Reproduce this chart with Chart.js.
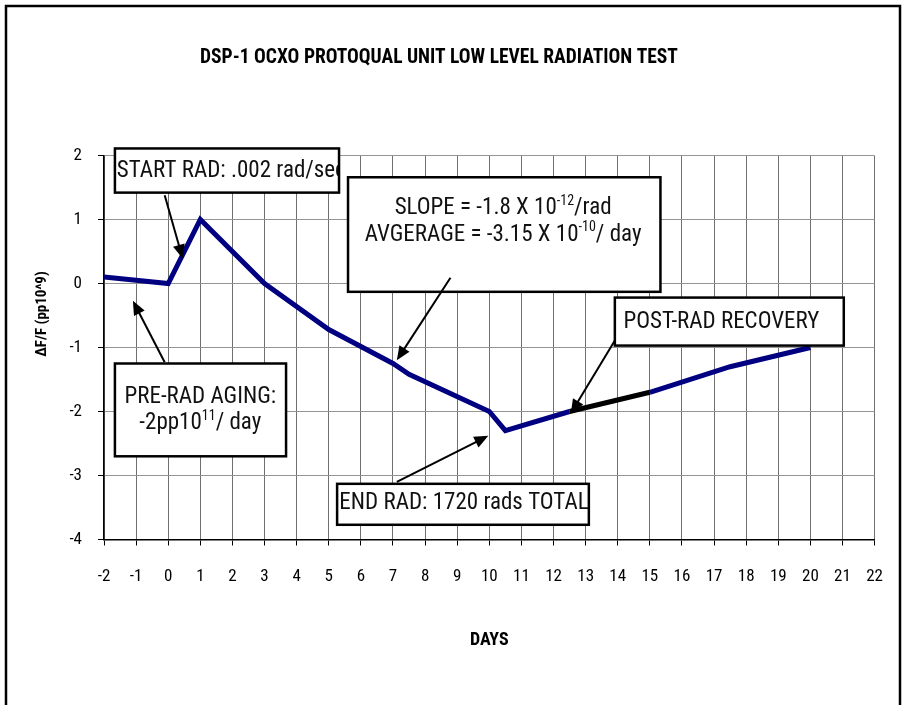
<!DOCTYPE html>
<html>
<head>
<meta charset="utf-8">
<script src="https://cdn.jsdelivr.net/npm/chart.js@4.4.1/dist/chart.umd.min.js"></script>
<style>
  html, body { margin: 0; padding: 0; background: #fff; }
  #wrap { position: relative; width: 904px; height: 705px; }
</style>
</head>
<body>
<div id="wrap"><canvas id="chart" width="904" height="705"></canvas></div>
<script>
// Measured drift (days vs. delta F/F in pp10^9)
const days   = [-2, 0, 1, 3, 5, 7, 7.5, 10, 10.5, 12.5, 15, 17.5, 20];
const deltaF = [0.1, 0, 1, 0, -0.72, -1.25, -1.42, -2.0, -2.3, -2.0, -1.7, -1.3, -1.0];
// the stretch drawn in black
const blackFrom = 12.5;
const blackTo = 15;

const xTickValues = [-2, -1, 0, 1, 2, 3, 4, 5, 6, 7, 8, 9, 10, 11, 12, 13, 14, 15, 16, 17, 18, 19, 20, 21, 22];
const yTickValues = [-4, -3, -2, -1, 0, 1, 2];

const chartTitle = 'DSP-1 OCXO PROTOQUAL UNIT LOW LEVEL RADIATION TEST';
const xTitle = 'DAYS';
const yTitle = '\u0394F/F (pp10^9)';

// callout text, [text, superscript?] runs per line
const noteTexts = [
  [[['START RAD: .002 rad/sec', false]]],
  [[['SLOPE = -1.8 X 10', false], ['-12', true], ['/rad', false]],
   [['AVGERAGE = -3.15 X 10', false], ['-10', true], ['/ day', false]]],
  [[['PRE-RAD AGING:', false]],
   [['-2pp10', false], ['11', true], ['/ day', false]]],
  [[['END RAD: 1720 rads TOTAL', false]]],
  [[['POST-RAD RECOVERY', false]]]
];

const NARROW = "'Liberation Sans Narrow', 'Arial Narrow', 'Roboto Condensed', sans-serif";

// callout placement, in axis units
const noteBoxes = [
  { x0: -1.66, y0: 2.11, x1: 5.32, y1: 1.42, align: 'left', tx: -1.6, ty: [1.75] },
  { x0: 5.6, y0: 1.66, x1: 15.33, y1: -0.13, align: 'center', tx: 10.43, ty: [1.17, 0.75] },
  { x0: -1.66, y0: -1.25, x1: 3.67, y1: -2.7, align: 'center', tx: 1.0, ty: [-1.78, -2.19] },
  { x0: 5.26, y0: -3.13, x1: 13.1, y1: -3.77, align: 'left', tx: 5.33, ty: [-3.44] },
  { x0: 13.91, y0: -0.22, x1: 21.04, y1: -0.97, align: 'left', tx: 14.18, ty: [-0.6] }
];
const noteArrows = [
  { from: [-0.11, 1.38], to: [0.45, 0.39] },
  { from: [8.79, 0.09], to: [7.12, -1.2] },
  { from: [-0.11, -1.23], to: [-1.1, -0.27] },
  { from: [7.12, -3.1], to: [9.97, -2.38] },
  { from: [13.91, -0.89], to: [12.54, -2.03] }
];

function drawRuns(ctx, runs, x, y, align, size) {
  const supSize = Math.round(size * 0.6);
  let total = 0;
  runs.forEach(r => {
    ctx.font = (r[1] ? supSize : size) + 'px ' + NARROW;
    total += ctx.measureText(r[0]).width;
  });
  let cx = align === 'center' ? x - total / 2 : x;
  ctx.textAlign = 'left';
  ctx.textBaseline = 'middle';
  runs.forEach(r => {
    ctx.font = (r[1] ? supSize : size) + 'px ' + NARROW;
    ctx.fillText(r[0], cx, r[1] ? y - size * 0.33 : y);
    cx += ctx.measureText(r[0]).width;
  });
}

function drawArrow(ctx, x0, y0, x1, y1) {
  const ang = Math.atan2(y1 - y0, x1 - x0);
  const len = 14, half = 6;
  ctx.beginPath();
  ctx.moveTo(x0, y0);
  ctx.lineTo(x1 - Math.cos(ang) * len * 0.8, y1 - Math.sin(ang) * len * 0.8);
  ctx.lineWidth = 2;
  ctx.strokeStyle = '#000';
  ctx.stroke();
  ctx.beginPath();
  ctx.moveTo(x1, y1);
  ctx.lineTo(x1 - Math.cos(ang) * len + Math.sin(ang) * half, y1 - Math.sin(ang) * len - Math.cos(ang) * half);
  ctx.lineTo(x1 - Math.cos(ang) * len - Math.sin(ang) * half, y1 - Math.sin(ang) * len + Math.cos(ang) * half);
  ctx.closePath();
  ctx.fillStyle = '#000';
  ctx.fill();
}

const calloutPlugin = {
  id: 'callouts',
  beforeDraw(chart) {
    const ctx = chart.ctx;
    ctx.save();
    ctx.fillStyle = '#fff';
    ctx.fillRect(0, 0, chart.width, chart.height);
    // outer frame
    ctx.lineWidth = 2.5;
    ctx.strokeStyle = '#000';
    ctx.strokeRect(6, 6, 894, 760);
    ctx.restore();
  },
  afterDraw(chart) {
    const ctx = chart.ctx;
    const xs = chart.scales.x, ys = chart.scales.y;
    ctx.save();
    noteBoxes.forEach((b, i) => {
      const l = xs.getPixelForValue(b.x0), r = xs.getPixelForValue(b.x1);
      const t = ys.getPixelForValue(b.y0), btm = ys.getPixelForValue(b.y1);
      ctx.fillStyle = '#fff';
      ctx.fillRect(l, t, r - l, btm - t);
      ctx.save();
      ctx.beginPath();
      ctx.rect(l, t, r - l, btm - t);
      ctx.clip();
      ctx.fillStyle = '#111';
      noteTexts[i].forEach((line, k) => {
        drawRuns(ctx, line, xs.getPixelForValue(b.tx), ys.getPixelForValue(b.ty[k]), b.align, 23);
      });
      ctx.restore();
      ctx.lineWidth = 2.5;
      ctx.strokeStyle = '#000';
      ctx.strokeRect(l, t, r - l, btm - t);
    });
    noteArrows.forEach(a => {
      drawArrow(ctx, xs.getPixelForValue(a.from[0]), ys.getPixelForValue(a.from[1]),
                xs.getPixelForValue(a.to[0]), ys.getPixelForValue(a.to[1]));
    });
    // y axis title
    ctx.translate(42, 314);
    ctx.rotate(-Math.PI / 2);
    ctx.font = 'bold 15px ' + NARROW;
    ctx.fillStyle = '#000';
    ctx.textAlign = 'center';
    ctx.textBaseline = 'middle';
    ctx.fillText(yTitle, 0, 0);
    ctx.restore();
  }
};

const tickFont = { family: NARROW, size: 17 };

new Chart(document.getElementById('chart'), {
  type: 'line',
  data: {
    datasets: [{
      data: days.map((d, i) => ({ x: d, y: deltaF[i] })),
      borderColor: '#000080',
      borderWidth: 5,
      pointRadius: 0,
      tension: 0,
      fill: false,
      segment: {
        borderColor: c => (days[c.p0DataIndex] === blackFrom && days[c.p1DataIndex] === blackTo) ? '#000' : '#000080'
      }
    }]
  },
  options: {
    responsive: false,
    animation: false,
    layout: { padding: { top: 0, left: 0, right: 26, bottom: 0 } },
    plugins: {
      legend: { display: false },
      tooltip: { enabled: false },
      title: {
        display: true,
        text: chartTitle,
        color: '#000',
        font: { family: NARROW, size: 19.5, weight: 'bold' },
        lineHeight: 1.2,
        padding: { top: 46.3, bottom: 85.8 }
      }
    },
    scales: {
      x: {
        type: 'linear',
        min: -2,
        max: 22,
        afterBuildTicks: s => { s.ticks = xTickValues.map(v => ({ value: v })); },
        afterFit: s => { s.height = 165.5; },
        grid: { color: '#707070', lineWidth: 1, tickLength: 6, tickColor: '#000' },
        border: { color: '#000', width: 1.5 },
        ticks: { color: '#000', font: tickFont, padding: 21, maxRotation: 0, autoSkip: false },
        title: {
          display: true,
          text: xTitle,
          color: '#000',
          font: { family: NARROW, size: 18, weight: 'bold' },
          padding: { top: 0, bottom: 54 }
        }
      },
      y: {
        type: 'linear',
        min: -4,
        max: 2,
        afterBuildTicks: s => { s.ticks = yTickValues.map(v => ({ value: v })); },
        afterFit: s => { s.width = 104; },
        grid: { color: '#959595', lineWidth: 1, tickLength: 6, tickColor: '#000' },
        border: { color: '#000', width: 1.5 },
        ticks: { color: '#000', font: tickFont, padding: 16 }
      }
    }
  },
  plugins: [calloutPlugin]
});
</script>
</body>
</html>
